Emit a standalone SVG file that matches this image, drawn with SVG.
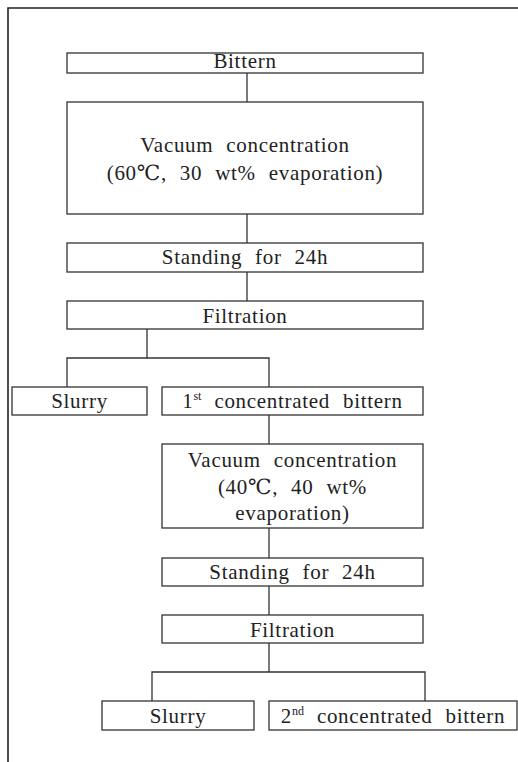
<svg xmlns="http://www.w3.org/2000/svg" width="518" height="762" viewBox="0 0 518 762">
<style>
.box{fill:#fff;stroke:#333;stroke-width:1.3}
.ln{fill:none;stroke:#333;stroke-width:1.3}
.frame{fill:none;stroke:#222;stroke-width:1.6}
text{font-family:'Liberation Serif','Times New Roman','DejaVu Serif',serif;font-size:21px;fill:#222;text-anchor:middle;letter-spacing:0.7px;word-spacing:7px}
.sup{font-size:12px;letter-spacing:0;word-spacing:0}
</style>
<rect width="518" height="762" fill="#fff"/>
<path class="frame" d="M8,762 V8 H518"/>
<g id="connectors">
<path class="ln" d="M247,73 V102"/>
<path class="ln" d="M247,214 V243"/>
<path class="ln" d="M247,272 V301"/>
<path class="ln" d="M147,329 V358 M67,387 V358 H269 V387"/>
<path class="ln" d="M269,415 V444"/>
<path class="ln" d="M269,528 V558"/>
<path class="ln" d="M269,586 V615"/>
<path class="ln" d="M269,643 V672 M152,701 V672 H425 V701"/>
</g>
<g id="n1"><rect class="box" x="67" y="53" width="356" height="20"/><text x="245" y="68">Bittern</text></g>
<g id="n2"><rect class="box" x="67" y="102" width="356" height="112"/><text x="245" y="152">Vacuum concentration</text><text x="245" y="180">(60℃, 30 wt% evaporation)</text></g>
<g id="n3"><rect class="box" x="67" y="243" width="356" height="29"/><text x="245" y="264">Standing for 24h</text></g>
<g id="n4"><rect class="box" x="67" y="301" width="356" height="28"/><text x="245" y="323">Filtration</text></g>
<g id="n5"><rect class="box" x="12" y="387" width="135" height="28"/><text x="79.5" y="408">Slurry</text></g>
<g id="n6"><rect class="box" x="162" y="387" width="261" height="28"/><text x="292.5" y="408">1<tspan class="sup" dy="-8">st</tspan><tspan dy="8"> concentrated bittern</tspan></text></g>
<g id="n7"><rect class="box" x="162" y="444" width="261" height="84"/><text x="292.5" y="467">Vacuum concentration</text><text x="292.5" y="494">(40℃, 40 wt%</text><text x="292.5" y="520">evaporation)</text></g>
<g id="n8"><rect class="box" x="162" y="558" width="261" height="28"/><text x="292.5" y="579">Standing for 24h</text></g>
<g id="n9"><rect class="box" x="162" y="615" width="261" height="28"/><text x="292.5" y="637">Filtration</text></g>
<g id="n10"><rect class="box" x="102" y="701" width="152" height="29"/><text x="178" y="723">Slurry</text></g>
<g id="n11"><rect class="box" x="269" y="701" width="248" height="29"/><text x="393" y="723">2<tspan class="sup" dy="-8">nd</tspan><tspan dy="8"> concentrated bittern</tspan></text></g>
</svg>
